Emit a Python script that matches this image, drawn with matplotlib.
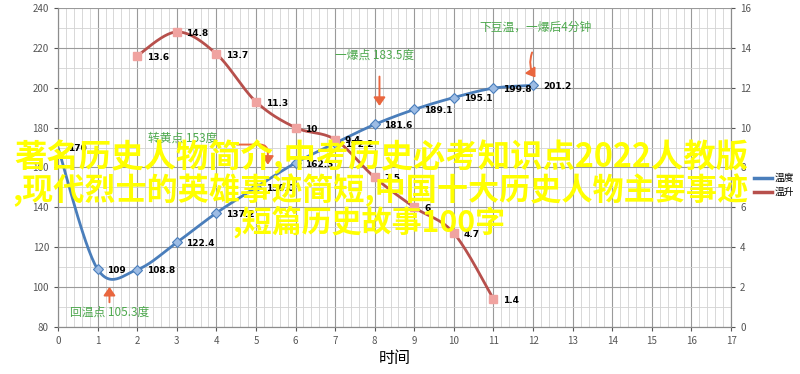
"""Coffee roast curve: temperature and rate of rise vs time."""

import matplotlib

matplotlib.use("Agg")

import matplotlib.pyplot as plt
import numpy as np
from matplotlib.ticker import MultipleLocator

plt.rcParams["font.family"] = ["Noto Sans CJK SC", "DejaVu Sans"]

# data
temp_x = [0, 1, 2, 3, 4, 5, 6, 7, 8, 9, 10, 11, 12]
temp_y = [170, 109, 108.8, 122.4, 137.2, 150.0, 162.3, 172.2, 181.6, 189.1, 195.1, 199.8, 201.2]
temp_labels = ["170", "109", "108.8", "122.4", "137.2", "150.0", "162.3", "172.2",
               "181.6", "189.1", "195.1", "199.8", "201.2"]
rise_x = [2, 3, 4, 5, 6, 7, 8, 9, 10, 11]
rise_y = [13.6, 14.8, 13.7, 11.3, 10, 9.4, 7.5, 6, 4.7, 1.4]
rise_labels = ["13.6", "14.8", "13.7", "11.3", "10", "9.4", "7.5", "6", "4.7", "1.4"]

notes = ["转黄点 153度", "一爆点 183.5度", "下豆温，一爆后4分钟", "回温点 105.3度"]
overlay = [
    "著名历史人物简介,中考历史必考知识点2022人教版",
    ",现代烈士的英雄事迹简短,中国十大历史人物主要事迹",
    ",短篇历史故事100字",
]

BLUE = "#4A7EBB"
BLUE_FACE = "#9DBCE4"
RED = "#B7504C"
RED_FACE = "#F0A3A0"
GREEN = "#4DA84D"
ARROW = "#E9663E"


def smooth(x, y, steps=30):
    """Catmull-Rom style smoothing like spreadsheet 'smoothed line'."""
    x = np.asarray(x, float)
    y = np.asarray(y, float)
    px = np.concatenate([[x[0]], x, [x[-1]]])
    py = np.concatenate([[y[0]], y, [y[-1]]])
    out_x, out_y = [], []
    t = np.linspace(0, 1, steps)
    for i in range(1, len(px) - 2):
        p0 = np.array([px[i], py[i]])
        p3 = np.array([px[i + 1], py[i + 1]])
        c1 = p0 + (np.array([px[i + 1], py[i + 1]]) - np.array([px[i - 1], py[i - 1]])) / 6
        c2 = p3 - (np.array([px[i + 2], py[i + 2]]) - np.array([px[i], py[i]])) / 6
        pts = ((1 - t) ** 3)[:, None] * p0 + (3 * (1 - t) ** 2 * t)[:, None] * c1 \
            + (3 * (1 - t) * t ** 2)[:, None] * c2 + (t ** 3)[:, None] * p3
        out_x.extend(pts[:, 0])
        out_y.extend(pts[:, 1])
    return out_x, out_y


fig = plt.figure(figsize=(8, 3.74), dpi=100)
ax = fig.add_axes([0.0725, 0.1257, 0.8413, 0.8529])
ax2 = ax.twinx()

ax.set_xlim(0, 17)
ax.set_ylim(80, 240)
ax2.set_ylim(0, 16)
ax.xaxis.set_major_locator(MultipleLocator(1))
ax.xaxis.set_minor_locator(MultipleLocator(0.2))
ax.yaxis.set_major_locator(MultipleLocator(20))
ax.yaxis.set_minor_locator(MultipleLocator(10))
ax2.yaxis.set_major_locator(MultipleLocator(2))
ax.grid(True, which="major", color="#9A9A9A", lw=0.8)
ax.grid(True, which="minor", color="#D2D2D2", lw=0.6)
ax.set_axisbelow(True)

for a in (ax, ax2):
    for side in a.spines:
        a.spines[side].set_color("#8C8C8C")
    a.spines["top"].set_visible(False)
    a.tick_params(which="major", labelsize=7, colors="#555555", length=3)
    a.tick_params(which="minor", length=0)

ax.set_xlabel("时间", fontsize=11.5, labelpad=3)

# temperature curve
sx, sy = smooth(temp_x, temp_y)
ax.plot(sx, sy, color=BLUE, lw=2.0, zorder=3)
ax.plot(temp_x[1:], temp_y[1:], ls="none", marker="D", ms=5,
        mfc=BLUE_FACE, mec=BLUE, mew=0.8, zorder=4)
for x, y, lab in zip(temp_x, temp_y, temp_labels):
    ax.annotate(lab, (x, y), xytext=(7, -1), textcoords="offset points",
                fontsize=6.5, fontweight="bold", family="DejaVu Sans",
                ha="left", va="center", zorder=5)

# rate of rise curve
rx, ry = smooth(rise_x, rise_y)
ax2.plot(rx, ry, color=RED, lw=2.0, zorder=3)
ax2.plot(rise_x, rise_y, ls="none", marker="s", ms=6,
         mfc=RED_FACE, mec=RED_FACE, zorder=4)
for x, y, lab in zip(rise_x, rise_y, rise_labels):
    ax2.annotate(lab, (x, y), xytext=(7, -1), textcoords="offset points",
                 fontsize=6.5, fontweight="bold", family="DejaVu Sans",
                 ha="left", va="center", zorder=5)

# green notes
note_pos = [(3.15, 174.5), (8.0, 216.5), (12.05, 230.5), (1.31, 87.5)]
for text, (x, y) in zip(notes, note_pos):
    ax.text(x, y, text, color=GREEN, fontsize=8.5, ha="center", va="center", zorder=5)

# hand-drawn arrows
arrow = dict(arrowstyle="-|>,head_width=0.35,head_length=0.5", color=ARROW, lw=1.4)
ax.annotate("", xy=(5.3, 160), xytext=(4.45, 171.5),
            arrowprops=dict(arrow, connectionstyle="angle,angleA=0,angleB=90,rad=8"))
ax.annotate("", xy=(8.12, 189.5), xytext=(8.12, 207), arrowprops=arrow)
ax.annotate("", xy=(12.1, 204), xytext=(12.0, 219),
            arrowprops=dict(arrow, connectionstyle="arc3,rad=0.3"))
ax.annotate("", xy=(1.3, 101.5), xytext=(1.3, 91), arrowprops=arrow)

# legend, right of the secondary tick labels
h1, = ax.plot([], [], color=BLUE, lw=2.5)
h2, = ax.plot([], [], color=RED, lw=2.5)
fig.legend([h1, h2], ["温度", "温升"], loc="center left", bbox_to_anchor=(0.942, 0.505),
           frameon=False, fontsize=7, handlelength=1.9, handletextpad=0.25,
           labelspacing=0.45, borderpad=0, borderaxespad=0)

# yellow overlay text
overlay_pos = [(0.018, 0.578), (0.016, 0.492), (0.29, 0.406)]
overlay_size = [23.3, 22.4, 21.6]
for text, (x, y), size in zip(overlay, overlay_pos, overlay_size):
    fig.text(x, y, text, color="#FFFF00", fontsize=size, fontweight="bold",
             ha="left", va="center", zorder=10)

fig.savefig("out.png", dpi=100)
